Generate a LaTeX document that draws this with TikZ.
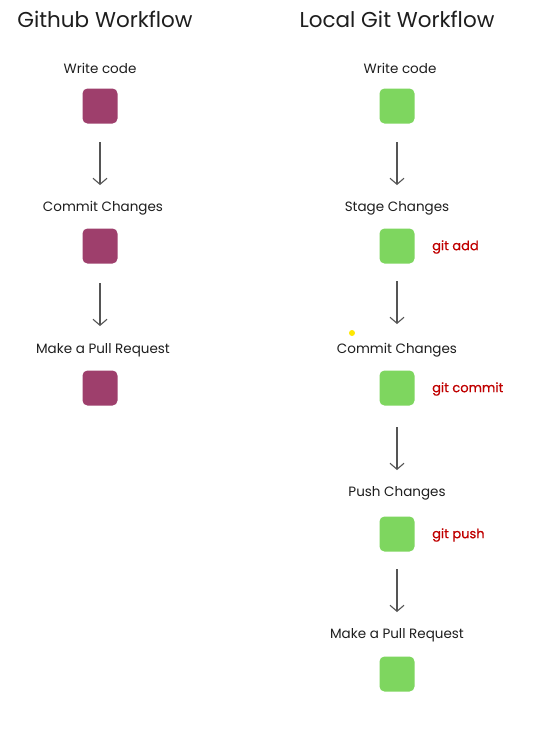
\documentclass[tikz,border=0pt]{standalone}
\usepackage{fontspec}
\setmainfont{Poppins}
\newfontfamily\cmdfont[FakeBold=0.6]{Poppins}
\usetikzlibrary{arrows.meta}
\definecolor{ghbox}{HTML}{9E3F6C}
\definecolor{gitbox}{HTML}{7ED65F}
\definecolor{cmdred}{HTML}{C00000}
\definecolor{arrowgray}{HTML}{555555}
\definecolor{txt}{HTML}{1E1E1E}
\begin{document}
\begin{tikzpicture}[x=1pt,y=-1pt,
  title/.style={font=\fontsize{21.5}{26}\selectfont, text=txt, inner sep=0pt},
  lab/.style={font=\fontsize{13.5}{16}\selectfont, text=txt, inner sep=0pt},
  cmd/.style={font=\cmdfont\fontsize{13}{16}\selectfont, text=cmdred, inner sep=0pt, anchor=west},
  ghsq/.style={fill=ghbox, draw=none, rounded corners=5pt, minimum width=35pt, minimum height=35pt, inner sep=0pt},
  gitsq/.style={fill=gitbox, draw=none, rounded corners=5pt, minimum width=35pt, minimum height=35pt, inner sep=0pt},
  flow/.style={draw=arrowgray, line width=1.1pt, -{Straight Barb[length=6pt,width=14pt,line width=1.1pt]}}]
\useasboundingbox[fill=white] (0,0) rectangle (538,732);
% titles
\node[title] (t1) at (105,19) {Github Workflow};
\node[title] (t2) at (397,19) {Local Git Workflow};
% left column
\node[lab] (l1) at (100,68) {Write code};
\node[ghsq] (b1) at (100,106) {};
\coordinate (a1s) at (100,142); \coordinate (a1e) at (100,185);
\node[lab] (l2) at (103,208) {Commit Changes};
\node[ghsq] (b2) at (100,246) {};
\coordinate (a2s) at (100,283); \coordinate (a2e) at (100,326);
\node[lab] (l3) at (103,350) {Make a Pull Request};
\node[ghsq] (b3) at (100,388) {};
\draw[flow] (a1s) -- (a1e);
\draw[flow] (a2s) -- (a2e);
% right column
\node[lab] (r1) at (400,68) {Write code};
\node[gitsq] (g1) at (397,106) {};
\node[lab] (r2) at (397,208) {Stage Changes};
\node[gitsq] (g2) at (397,246) {};
\node[cmd] (c2) at (432,247) {git add};
\node[lab] (r3) at (397,350) {Commit Changes};
\node[gitsq] (g3) at (397,388) {};
\node[cmd] (c3) at (432,389) {git commit};
\node[lab] (r4) at (397,493) {Push Changes};
\node[gitsq] (g4) at (397,534) {};
\node[cmd] (c4) at (432,535) {git push};
\node[lab] (r5) at (397,635) {Make a Pull Request};
\node[gitsq] (g5) at (397,674) {};
\coordinate (b1s) at (397,142); \coordinate (b1e) at (397,185);
\coordinate (b2s) at (397,281); \coordinate (b2e) at (397,324);
\coordinate (b3s) at (397,427); \coordinate (b3e) at (397,470);
\coordinate (b4s) at (397,569); \coordinate (b4e) at (397,612);
\draw[flow] (b1s) -- (b1e);
\draw[flow] (b2s) -- (b2e);
\draw[flow] (b3s) -- (b3e);
\draw[flow] (b4s) -- (b4e);
% cursor dot
\fill[yellow!90!orange] (352,333) circle (3pt);
\end{tikzpicture}
\end{document}
